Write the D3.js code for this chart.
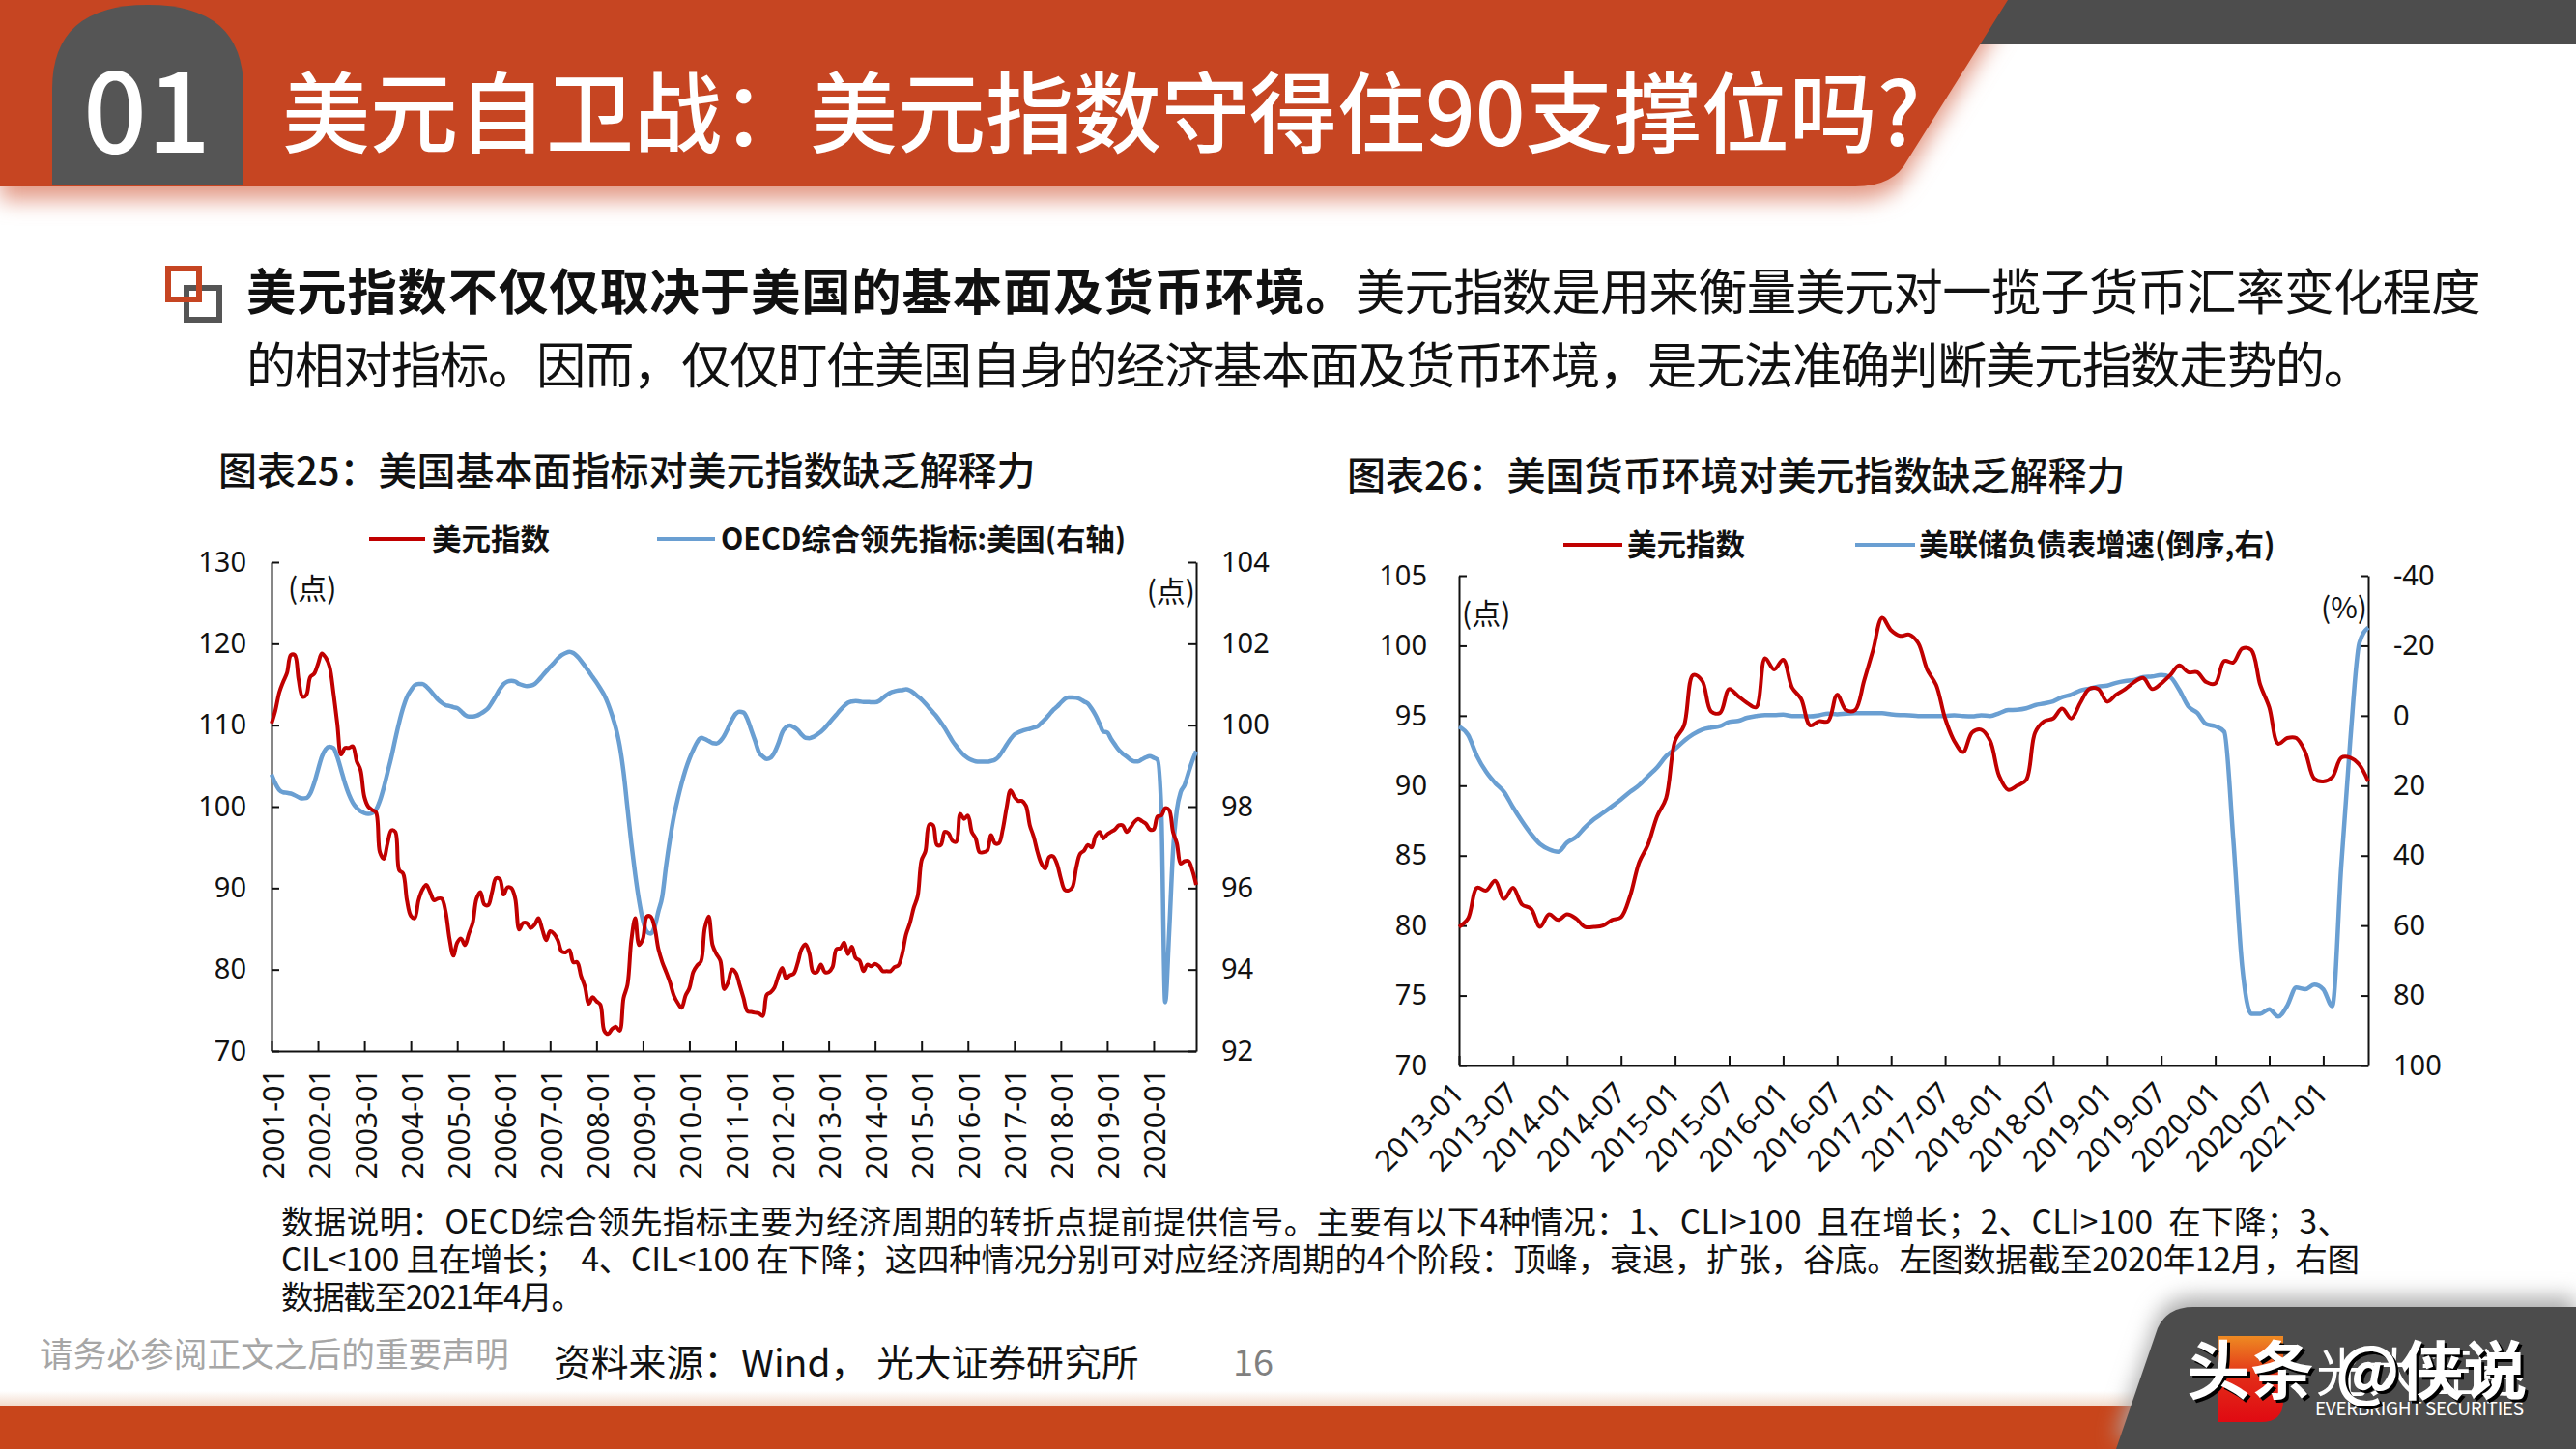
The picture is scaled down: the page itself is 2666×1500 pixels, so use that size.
<!DOCTYPE html>
<html><head><meta charset="utf-8">
<script src="https://cdn.jsdelivr.net/npm/d3@7"></script>
<style>html,body{margin:0;background:#fff}svg{display:block}
text{font-family:"Noto Sans CJK SC","Noto Sans",sans-serif}
.num text{font-family:"Noto Sans","Noto Sans CJK SC",sans-serif}</style></head>
<body><svg id="c" width="2666" height="1500" viewBox="0 0 2666 1500"></svg>
<script>
// ---- Left chart data (monthly, 2001-01 .. 2020-12)
const dxyLeft=[110.2,111.8,114,115.3,116.4,118.6,118.6,115.6,113.5,113.7,115.9,116.3,
117.5,118.8,118.3,117.2,114,110.2,106.4,107.2,107.2,107.4,105.6,104.5,
101.2,100,99.6,99.3,94.4,93.6,95.5,97.1,96.9,92.2,91.8,88.5,
86.6,86.3,88.5,89.8,90.4,89.5,88.5,88.7,88.7,87.1,83.8,81.7,
83.3,83.8,83,84.4,85.7,88.7,89.5,88,87.9,89.5,91.2,91.1,
89.2,90.1,90,88.7,84.9,85.7,85.7,85.1,85.5,86.3,84.9,83.6,
84.7,84.4,83.6,82.2,82.1,82.4,80.9,80.9,79.2,77.9,75.8,76.6,
76.1,75.7,72.5,72.1,72.7,73,72.5,76.5,78.1,83.6,86.3,83,
83.8,86.5,86.5,85.2,82.5,80.9,79.7,78.4,76.8,75.9,75.3,76.8,
77.7,79.7,80.5,81,85.1,86.5,83,81.9,81.1,77.6,78.4,80,
79.6,78.1,76.5,74.9,74.8,74.7,74.6,74.3,76.9,77.2,77.8,79.2,
80.2,78.9,79.3,79.5,80.8,82.5,83.1,82,79.7,79.7,80.6,79.7,
79.7,80.3,82.5,82.6,83.3,81.9,82.8,81.4,81.1,79.8,80.6,80.4,
80.7,80.4,79.8,79.8,79.8,80.3,80.5,81.9,84.3,85.7,87.6,89,
93.4,94.5,97.8,97.7,95.3,95.3,96.9,96.7,95.8,95.7,99.1,98.5,
98.9,96.9,96.1,94.4,94.4,94.6,96.5,95.5,95.5,97.2,99.9,102,
101.2,100.7,100.7,100.1,97.7,96.3,94.4,93,92.4,93.8,93.9,93,
91.2,89.8,89.7,90.1,92.5,94.2,94.6,95.3,95,96.4,96.9,96.1,
96.6,96.9,97.2,97.7,97.7,96.9,97.4,98.1,98.5,98.2,97.9,97.2,
97.2,98.8,98.9,99.8,99.6,96.9,95.5,93,93.3,93.3,92.2,90.4];
const oecd=[98.79,98.57,98.41,98.35,98.34,98.32,98.28,98.23,98.2,98.21,98.32,98.57,
98.9,99.22,99.41,99.47,99.44,99.22,98.9,98.57,98.3,98.1,97.97,97.89,
97.84,97.82,97.84,97.92,98.14,98.46,98.84,99.22,99.66,100.07,100.42,100.69,
100.85,100.98,101.01,101.01,100.95,100.85,100.74,100.63,100.55,100.49,100.47,100.44,
100.42,100.34,100.25,100.21,100.21,100.23,100.28,100.34,100.42,100.56,100.72,100.88,
101.01,101.07,101.09,101.07,101.01,100.98,100.96,100.97,101.01,101.1,101.21,101.32,
101.43,101.53,101.64,101.72,101.77,101.8,101.77,101.69,101.58,101.45,101.32,101.18,
101.05,100.9,100.74,100.52,100.25,99.93,99.49,98.84,97.97,97.1,96.34,95.69,
95.2,94.93,94.88,95.04,95.43,95.8,96.56,97.21,97.76,98.19,98.57,98.9,
99.17,99.39,99.58,99.69,99.66,99.61,99.56,99.55,99.61,99.74,99.93,100.13,
100.28,100.33,100.31,100.15,99.88,99.61,99.33,99.23,99.17,99.2,99.33,99.55,
99.82,99.95,99.99,99.95,99.88,99.77,99.69,99.68,99.71,99.77,99.84,99.93,
100.04,100.15,100.26,100.37,100.47,100.55,100.58,100.59,100.58,100.57,100.57,100.56,
100.56,100.59,100.67,100.74,100.8,100.83,100.85,100.86,100.88,100.85,100.79,100.71,
100.63,100.53,100.42,100.31,100.2,100.07,99.93,99.77,99.61,99.48,99.36,99.26,
99.19,99.14,99.11,99.1,99.1,99.1,99.12,99.15,99.23,99.37,99.52,99.66,
99.77,99.82,99.86,99.89,99.91,99.94,99.97,100.06,100.15,100.26,100.37,100.45,
100.55,100.64,100.68,100.68,100.67,100.64,100.58,100.53,100.4,100.24,100.04,99.84,
99.82,99.66,99.52,99.39,99.3,99.23,99.15,99.11,99.11,99.16,99.21,99.24,
99.2,99.15,97.87,93.2,94.88,96.89,97.92,98.36,98.53,98.83,99.12,99.36];
const leftAxisTicks=[70,80,90,100,110,120,130];
const oecdAxisTicks=[92,94,96,98,100,102,104];
// ---- Right chart data (monthly, 2013-01 .. 2021-06)
const dxyRight=[79.9,80.5,82.7,82.5,83.2,81.9,82.7,81.5,81.2,79.9,80.8,80.4,
80.8,80.5,79.9,79.9,80,80.4,80.6,82.1,84.5,85.8,87.8,89.1,
93.2,94.3,97.9,97.5,95.3,95.2,96.9,96.4,95.9,95.6,99.1,98.3,
99,97,96.2,94.3,94.6,94.6,96.5,95.4,95.4,97.5,99.7,102,
101.1,100.7,100.8,100.2,98.3,97.2,94.8,93.2,92.4,93.8,94,93.2,
90.7,89.7,90,90.4,93.8,94.6,94.8,95.5,94.8,95.9,96.9,96.9,
96,96.5,96.9,97.4,97.7,96.9,97.3,97.9,98.6,98.1,98.1,97.4,
97.3,98.9,98.8,99.8,99.7,97.2,95.6,93,93.4,93.4,92.4,90.5,
90.3,90.6,92,92,91.5,90.3];
const fedBalance=[3.1,5.5,11.6,16,19.2,21.8,26.2,30.2,33.8,36.7,38.2,38.9,
36.3,34.7,31.9,29.6,27.8,25.9,23.9,21.8,19.9,17.3,14.8,11.6,
9.5,7.2,5.3,4,3.4,3,1.8,1.5,0.6,0.1,-0.2,-0.2,
-0.3,0.1,0.1,0.2,-0.1,-0.6,-0.4,-0.6,-0.7,-0.7,-0.7,-0.7,
-0.4,-0.2,-0.1,0.1,0.1,0.1,0.1,-0.1,0.1,0.2,-0.1,0.1,
-0.7,-1.6,-1.7,-2.1,-3,-3.5,-4.1,-5.3,-6,-7.2,-7.7,-8.3,
-8.6,-9.4,-9.9,-10.2,-11,-11.2,-11.6,-11,-7.4,-2.7,-0.8,2.4,
3,4.6,35.1,71.8,85.2,85.2,83.9,86,82.9,77.7,78.2,76.9,
78.2,83,43,7.2,-20.7,-25.2];
const rightLeftTicks=[70,75,80,85,90,95,100,105];
const rightRightTicks=[-40,-20,0,20,40,60,80,100];
const titleText="美元自卫战：美元指数守得住90支撑位吗?";
const noteLines=["数据说明：OECD综合领先指标主要为经济周期的转折点提前提供信号。主要有以下4种情况：1、CLI>100  且在增长；2、CLI>100  在下降；3、",
"CIL<100 且在增长；  4、CIL<100 在下降；这四种情况分别可对应经济周期的4个阶段：顶峰，衰退，扩张，谷底。左图数据截至2020年12月，右图",
"数据截至2021年4月。"];

function months(startY,n){return d3.range(n).map(i=>{const y=startY+Math.floor(i/12),m=i%12+1;return y+"-"+String(m).padStart(2,"0")})}
const svg=d3.select("#c");
const RED="#C00000",BLUE="#6A9FD2",ORANGE="#C64522",DARK="#555555";
const defs=svg.append("defs");
defs.append("filter").attr("id","blur").attr("x","-5%").attr("y","-30%").attr("width","110%").attr("height","170%").append("feGaussianBlur").attr("stdDeviation",11);
const g3=defs.append("linearGradient").attr("id","sh3").attr("x1",0).attr("x2",0).attr("y1",0).attr("y2",1);
g3.append("stop").attr("offset",0).attr("stop-color","#fff");g3.append("stop").attr("offset",1).attr("stop-color","#f2d9c9");
const g4=defs.append("linearGradient").attr("id","logo").attr("x1",0).attr("x2",0).attr("y1",0).attr("y2",1);
g4.append("stop").attr("offset",0).attr("stop-color","#EE8A22");g4.append("stop").attr("offset",.5).attr("stop-color","#E22A18");g4.append("stop").attr("offset",1).attr("stop-color","#E00A12");

// header
const bannerPath="M0,0H2078L1974,166Q1960,193 1920,193H0Z";
svg.append("path").attr("d",bannerPath).attr("transform","translate(0,14)").attr("fill","#e39a86").attr("filter","url(#blur)");
svg.append("path").attr("d","M2040,0H2666V46H2040Z").attr("fill","#4d4d4d");
svg.append("path").attr("d",bannerPath).attr("fill",ORANGE);
svg.append("path").attr("d","M54,191V92Q54,5 153,5Q252,5 252,92V191Z").attr("fill",DARK);
svg.append("text").attr("x",86).attr("y",158).attr("font-size",116).attr("font-weight",500).attr("fill","#fff").text("01");
svg.append("text").attr("x",292).attr("y",151).attr("font-size",91).attr("font-weight",500).attr("fill","#fff").text(titleText);
// bullet
svg.append("rect").attr("x",193).attr("y",298).attr("width",34).attr("height",33).attr("fill","#fff").attr("stroke",DARK).attr("stroke-width",6);
svg.append("rect").attr("x",174).attr("y",278).attr("width",32).attr("height",32).attr("fill","none").attr("stroke",ORANGE).attr("stroke-width",6);
// body
const b1=svg.append("text").attr("x",255).attr("y",321).attr("font-size",51.3).attr("fill","#111");
b1.append("tspan").attr("font-weight",700).attr("letter-spacing",0.9).text("美元指数不仅仅取决于美国的基本面及货币环境。");
b1.append("tspan").attr("x",1403).attr("letter-spacing",-0.7).text("美元指数是用来衡量美元对一揽子货币汇率变化程度");
svg.append("text").attr("x",255).attr("y",397).attr("font-size",51.3).attr("letter-spacing",-1.3).attr("fill","#111").text("的相对指标。因而，仅仅盯住美国自身的经济基本面及货币环境，是无法准确判断美元指数走势的。");
// chart titles
svg.append("text").attr("x",226).attr("y",502).attr("font-size",40).attr("font-weight",500).attr("fill","#111").text("图表25：美国基本面指标对美元指数缺乏解释力");
svg.append("text").attr("x",1394).attr("y",507).attr("font-size",40).attr("font-weight",500).attr("fill","#111").text("图表26：美国货币环境对美元指数缺乏解释力");

function chart(o){
  const g=svg.append("g");
  const x=d3.scalePoint().domain(o.cats).range([o.x0,o.x1]);
  const yL=d3.scaleLinear().domain(o.ld).range([o.y1,o.y0]);
  const yR=d3.scaleLinear().domain(o.rd).range([o.y1,o.y0]);
  const line=(yy,c)=>d3.line().x((d,i)=>x(o.cats[i])).y(d=>yy(d)).curve(c);
  const ax=(sel,gen)=>{sel.call(gen);sel.classed("num",true);sel.selectAll("path,line").attr("stroke","#111").attr("stroke-width",2);sel.selectAll("text").attr("fill","#111").attr("font-size",29);};
  const gx=g.append("g").attr("transform",`translate(0,${o.y1})`);
  ax(gx,d3.axisBottom(x).tickValues(o.cats.filter((c,i)=>i%o.every==0)).tickSizeInner(-10).tickSizeOuter(0));
  gx.selectAll("text").attr("font-size",30.5);
  if(o.rot==-90){gx.selectAll("text").attr("text-anchor","end").attr("dy",null).attr("transform","translate(0,"+o.lab+") rotate(-90)").attr("x",0).attr("y",0).attr("dominant-baseline","central");}
  else{gx.selectAll("text").attr("text-anchor","end").attr("dy",null).attr("x",0).attr("y",0).attr("transform","translate(-2,"+o.lab+") rotate(-45)").attr("dominant-baseline","central");}
  const gl=g.append("g").attr("transform",`translate(${o.x0},0)`);
  ax(gl,d3.axisLeft(yL).tickValues(o.lt).tickSizeInner(-8).tickSizeOuter(0).tickPadding(o.lp));
  const gr=g.append("g").attr("transform",`translate(${o.x1},0)`);
  ax(gr,d3.axisRight(yR).tickValues(o.rt).tickFormat(d=>String(d)).tickSizeInner(-8).tickSizeOuter(0).tickPadding(26));
  g.append("path").datum(o.s2).attr("d",line(yR,d3.curveMonotoneX)).attr("fill","none").attr("stroke",BLUE).attr("stroke-width",4.5);
  g.append("path").datum(o.s1).attr("d",line(yL,d3.curveCatmullRom.alpha(.5))).attr("fill","none").attr("stroke",RED).attr("stroke-width",4);
  o.legend.forEach(l=>{
    g.append("line").attr("x1",l.a).attr("x2",l.b).attr("y1",o.ly).attr("y2",o.ly).attr("stroke",l.c).attr("stroke-width",4);
    g.append("text").attr("x",l.t).attr("y",o.ly).attr("dy","0.36em").attr("font-size",l.fs).attr("font-weight",700).attr("fill","#111").text(l.s);
  });
  o.units.forEach(u=>g.append("text").attr("x",u.x).attr("y",u.y).attr("dy","0.36em").attr("text-anchor",u.a||"start").attr("font-size",30).attr("fill","#111").text(u.s));
}
chart({cats:months(2001,dxyLeft.length),every:12,x0:281,x1:1238,y0:582,y1:1088,ld:[70,130],rd:[92,104],lt:leftAxisTicks,rt:oecdAxisTicks,lp:26,s1:dxyLeft,s2:oecd,rot:-90,lab:18,
 ly:558,legend:[{a:382,b:440,c:RED,t:447,s:"美元指数",fs:30.5},{a:680,b:740,c:BLUE,t:746,s:"OECD综合领先指标:美国(右轴)",fs:30.3}],
 units:[{x:298,y:609,s:"(点)"},{x:1237,y:612,a:"end",s:"(点)"}]});
chart({cats:months(2013,dxyRight.length),every:6,x0:1510,x1:2451,y0:596,y1:1103,ld:[70,105],rd:[100,-40],lt:rightLeftTicks,rt:rightRightTicks,lp:33,s1:dxyRight,s2:fedBalance,rot:-45,lab:22,
 ly:564,legend:[{a:1618,b:1679,c:RED,t:1684,s:"美元指数",fs:30.5},{a:1920,b:1982,c:BLUE,t:1986,s:"美联储负债表增速(倒序,右)",fs:30.5}],
 units:[{x:1513,y:635,s:"(点)"},{x:2450,y:629,a:"end",s:"(%)"}]});

// note
const noteW=[2141,2151,313];
noteLines.forEach((s,i)=>svg.append("text").attr("x",291).attr("y",[1277,1316,1355][i]).attr("font-size",33.5).attr("fill","#111").attr("textLength",noteW[i]).attr("lengthAdjust","spacing").style("white-space","pre").text(s));
// footer
svg.append("rect").attr("x",0).attr("y",1440).attr("width",2666).attr("height",16).attr("fill","url(#sh3)");
svg.append("rect").attr("x",0).attr("y",1456).attr("width",2666).attr("height",44).attr("fill","#C8451B");
svg.append("text").attr("x",41).attr("y",1415).attr("font-size",34.7).attr("fill","#a6a6a6").text("请务必参阅正文之后的重要声明");
svg.append("text").attr("x",573).attr("y",1425).attr("font-size",38.8).attr("fill","#111").text("资料来源：Wind， 光大证券研究所");
svg.append("text").attr("x",1276).attr("y",1424).attr("font-size",38).attr("fill","#808080").text("16");
const tabPath="M2190,1500L2233,1375Q2243,1353 2270,1353H2666V1500Z";
svg.append("path").attr("d",tabPath).attr("transform","translate(0,-10)").attr("fill","#aaa").attr("filter","url(#blur)");
svg.append("path").attr("d",tabPath).attr("fill","#4c4c4c");
svg.append("path").attr("d","M2295,1383H2363V1450Q2363,1472 2340,1472H2295Z").attr("fill","url(#logo)");
svg.append("text").attr("x",2397).attr("y",1441).attr("font-size",54).attr("fill","#fff").text("光大证券");
svg.append("text").attr("x",2396).attr("y",1465).attr("font-size",19).attr("fill","#fff").attr("textLength",216).text("EVERBRIGHT SECURITIES");
svg.append("text").attr("x",2263).attr("y",1443).attr("font-size",66).attr("font-weight",700).attr("fill","#fff").style("filter","drop-shadow(3px 3px 0 #000)").text("头条");
svg.append("text").attr("x",2417).attr("y",1443).attr("font-size",66).attr("font-weight",700).attr("fill","#fff").style("filter","drop-shadow(3px 3px 0 #000)").text("@侠说");
</script></body></html>
